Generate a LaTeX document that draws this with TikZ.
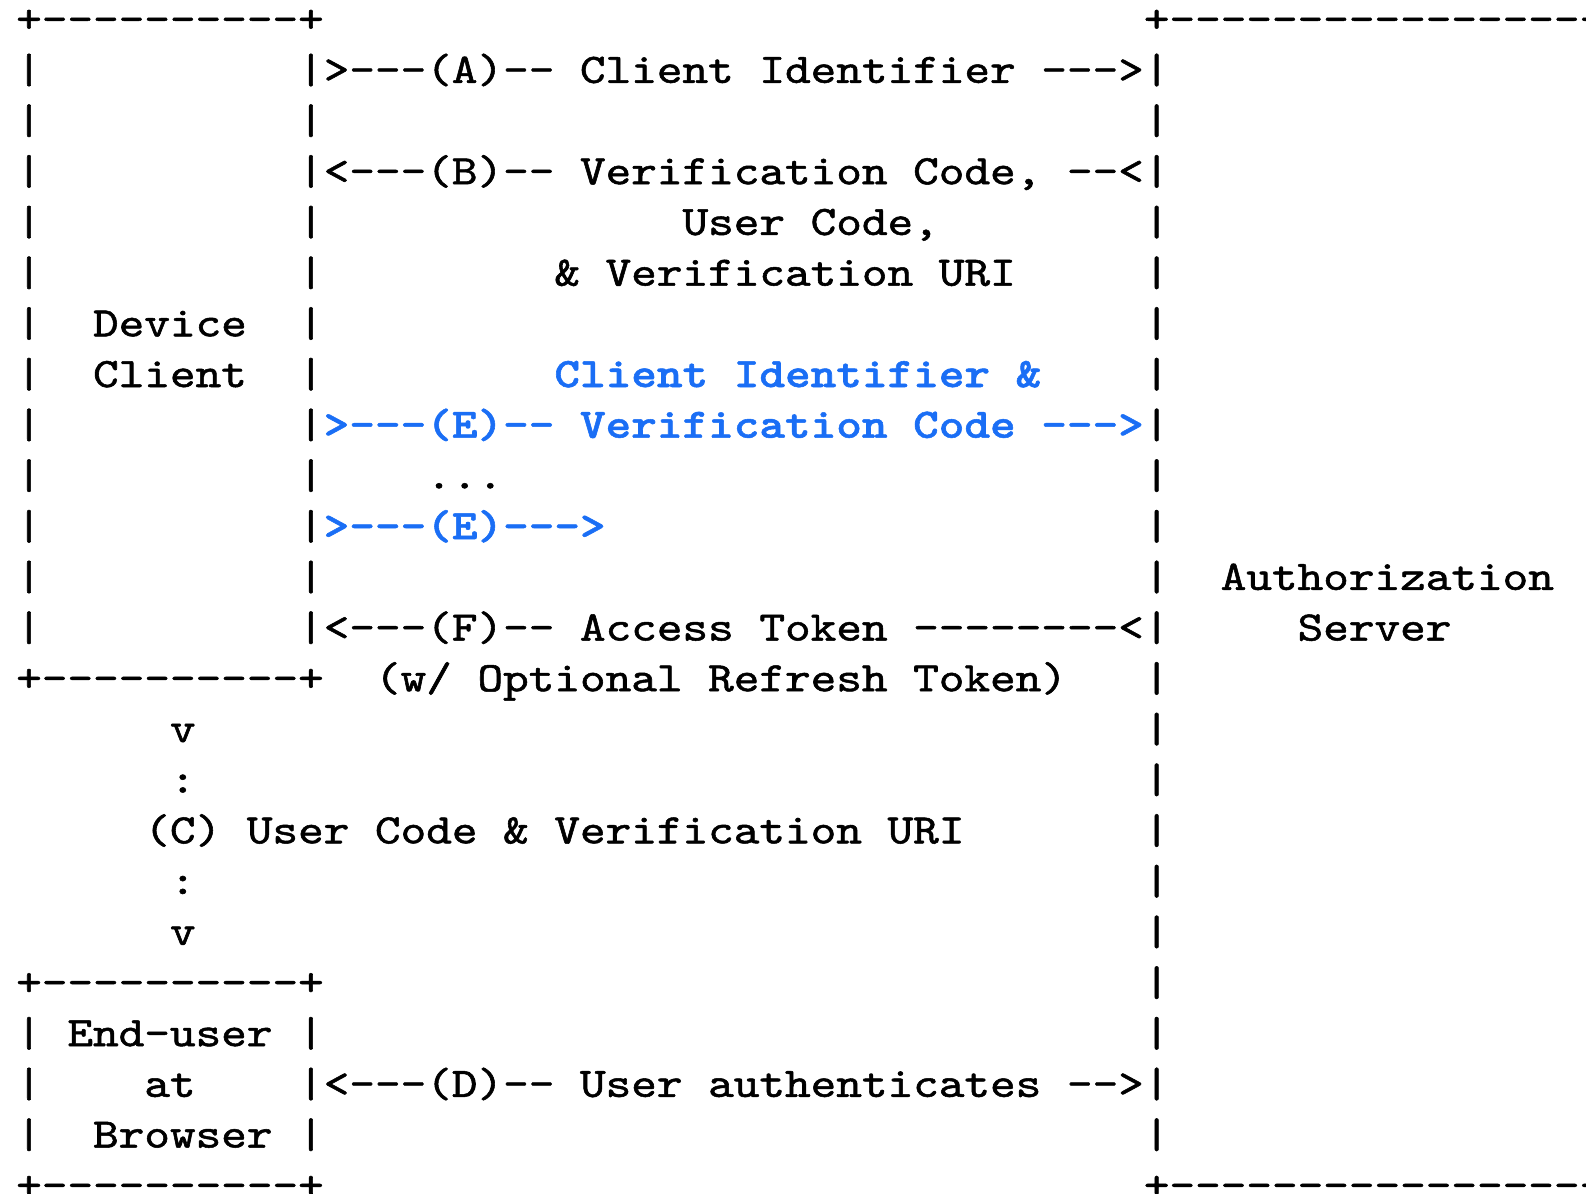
\documentclass[tikz,border=0pt]{standalone}
\usepackage{tikz}
\usepackage{graphicx}
\usepackage{fontspec}

\newfontfamily\asciifont{lmmono10-regular.otf}[BoldFont=lmmonolt10-bold.otf, FakeBold=1.2, Ligatures=TeXOff]
\definecolor{pollblue}{HTML}{1A6EF5}
% blank columns, one character cell each
\newcommand{\gap}[1]{\hspace*{#1\fontdimen2\font}}
% the polling requests, squeezed back onto the grid
\newcommand{\poll}[2]{\resizebox{#1\fontdimen2\font}{\height}{\bfseries\color{pollblue}#2}}

\begin{document}
\begin{tikzpicture}[x=12.8pt, y=25.35pt]
\tikzstyle{asciirow} = [anchor=base west, inner sep=0pt, outer sep=0pt, xscale=1.1623, font=\asciifont\frenchspacing\fontsize{21}{21}\selectfont]

\useasboundingbox (-0.633,0.634) rectangle (61.32,-22.916);

\node (top) [asciirow] at (0,0) {+----------+\gap{32}+------------------};
\node (reqA) [asciirow] at (0,-1) {|\gap{10}|>---(A)-- Client Identifier --->|};
\node (blank1) [asciirow] at (0,-2) {|\gap{10}|\gap{32}|};
\node (respB) [asciirow] at (0,-3) {|\gap{10}|<---(B)-- Verification Code, --<|};
\node (userCode) [asciirow] at (0,-4) {|\gap{10}|\gap{14}User Code,\gap{8}|};
\node (verifURI) [asciirow] at (0,-5) {|\gap{10}|\gap{9}\& Verification URI\gap{5}|};
\node (device) [asciirow] at (0,-6) {|\gap{2}Device\gap{2}|\gap{32}|};
\node (client) [asciirow] at (0,-7) {|\gap{2}Client\gap{2}|\gap{9}\poll{19}{Client Identifier \&}\gap{4}|};
\node (pollE) [asciirow] at (0,-8) {|\gap{10}|\poll{32}{>---(E)-- Verification Code --->}|};
\node (dots) [asciirow] at (0,-9) {|\gap{10}|\gap{4}...\gap{25}|};
\node (pollLast) [asciirow] at (0,-10) {|\gap{10}|\poll{11}{>---(E)--->}\gap{21}|};
\node (authz) [asciirow] at (0,-11) {|\gap{10}|\gap{32}|\gap{2}Authorization};
\node (respF) [asciirow] at (0,-12) {|\gap{10}|<---(F)-- Access Token --------<|\gap{5}Server};
\node (clientBottom) [asciirow] at (0,-13) {+----------+\gap{2}(w/ Optional Refresh Token)\gap{3}|};
\node (vTop) [asciirow] at (0,-14) {\gap{6}v\gap{37}|};
\node (colonTop) [asciirow] at (0,-15) {\gap{6}:\gap{37}|};
\node (stepC) [asciirow] at (0,-16) {\gap{5}(C) User Code \& Verification URI\gap{7}|};
\node (colonBottom) [asciirow] at (0,-17) {\gap{6}:\gap{37}|};
\node (vBottom) [asciirow] at (0,-18) {\gap{6}v\gap{37}|};
\node (browserTop) [asciirow] at (0,-19) {+----------+\gap{32}|};
\node (endUser) [asciirow] at (0,-20) {|\gap{1}End-user\gap{1}|\gap{32}|};
\node (reqD) [asciirow] at (0,-21) {|\gap{4}at\gap{4}|<---(D)-- User authenticates -->|};
\node (browser) [asciirow] at (0,-22) {|\gap{2}Browser\gap{1}|\gap{32}|};
\node (bottom) [asciirow] at (0,-23) {+----------+\gap{32}+------------------};

\end{tikzpicture}
\end{document}
